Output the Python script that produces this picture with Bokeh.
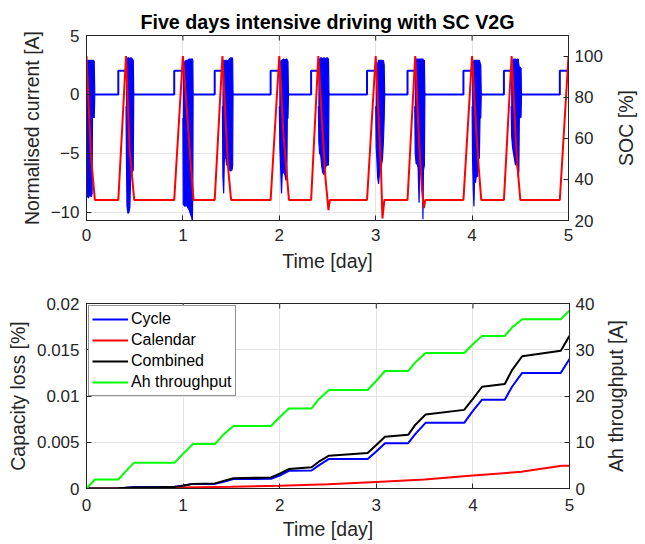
from bokeh.plotting import figure
from bokeh.models import (Range1d, LinearAxis, FixedTicker, Legend, LegendItem,
                          NumeralTickFormatter)
from bokeh.core.properties import value
from bokeh.layouts import column, row
from bokeh.embed import file_html
from bokeh.resources import INLINE

# ---------------- Top chart data (time in days) ----------------
x_ticks = [0, 1, 2, 3, 4, 5]
cur_ticks = [-10, -5, 0, 5]
soc_ticks = [20, 40, 60, 80, 100]

# normalised current: charging steps between driving periods
cur_t = [0.086, 0.33, 0.33, 0.41, 0.49, 0.91, 0.91, 1.0, 1.106, 1.33, 1.33, 1.41,
         1.52, 1.91, 1.91, 2.0, 2.095, 2.33, 2.33, 2.405, 2.515, 2.91, 2.91, 3.0,
         3.093, 3.33, 3.33, 3.405, 3.51, 3.91, 3.91, 4.0, 4.095, 4.33, 4.33, 4.405,
         4.512, 4.91, 4.91, 5.0]
cur_v = [0, 0, 2, 2, 0, 0, 2, 2, 0, 0, 2, 2,
         0, 0, 2, 2, 0, 0, 2, 2, 0, 0, 2, 2,
         0, 0, 2, 2, 0, 0, 2, 2, 0, 0, 2, 2,
         0, 0, 2, 2]

# driving periods: range (upper / lower envelope) of the fast-varying current
ev0_t = [0.000, 0.003, 0.008, 0.02, 0.035, 0.05, 0.058, 0.062, 0.07, 0.08, 0.086]
ev0_hi = [0.0, 1.0, 2.8, 2.9, 2.9, 2.9, 2.9, 2.9, 2.9, 2.8, 0.0]
ev0_lo = [-2.0, -7.5, -8.6, -8.8, -8.5, -8.7, -8.4, -2.0, -1.9, -2.0, 0.0]

ev1_t = [0.41, 0.415, 0.42, 0.43, 0.44, 0.45, 0.457, 0.465, 0.475, 0.485, 0.49]
ev1_hi = [2.0, 2.6, 3.0, 3.1, 3.1, 3.0, 3.1, 3.1, 3.0, 2.9, 0.0]
ev1_lo = [-1.0, -6.0, -9.5, -10.1, -10.0, -9.6, -7.2, -6.5, -6.6, -6.4, 0.0]

ev2_t = [1.0, 1.004, 1.01, 1.02, 1.035, 1.05, 1.065, 1.08, 1.09, 1.098, 1.103, 1.106]
ev2_hi = [2.0, 2.0, 2.4, 2.8, 2.9, 2.9, 3.0, 3.0, 3.0, 3.0, 2.9, 0.0]
ev2_lo = [-2.0, -9.3, -9.4, -9.5, -9.4, -9.6, -9.8, -10.2, -10.4, -10.7, -8.0, 0.0]

ev3_t = [1.41, 1.415, 1.423, 1.43, 1.44, 1.455, 1.47, 1.48, 1.495, 1.51, 1.516, 1.52]
ev3_hi = [2.0, 2.7, 2.9, 2.8, 2.9, 2.9, 2.8, 3.0, 3.1, 3.1, 3.0, 0.0]
ev3_lo = [-1.0, -7.0, -8.4, -5.6, -5.0, -6.0, -6.1, -6.4, -6.5, -6.4, -6.0, 0.0]

ev4_t = [2.0, 2.006, 2.015, 2.023, 2.03, 2.045, 2.06, 2.07, 2.078, 2.083, 2.09, 2.095]
ev4_hi = [2.0, 2.3, 2.8, 2.9, 2.9, 3.0, 2.9, 3.0, 3.0, 2.9, 2.8, 0.0]
ev4_lo = [-1.0, -4.5, -6.5, -8.4, -6.8, -6.5, -6.9, -7.3, -7.0, -2.1, -2.0, 0.0]

ev5_t = [2.405, 2.41, 2.418, 2.43, 2.44, 2.45, 2.46, 2.47, 2.48, 2.49, 2.5, 2.51, 2.515]
ev5_hi = [2.0, 2.6, 3.0, 3.1, 3.1, 3.0, 3.1, 3.1, 3.0, 3.1, 3.1, 3.0, 0.0]
ev5_lo = [-1.0, -4.0, -5.0, -5.2, -6.1, -6.6, -6.8, -6.5, -6.2, -6.0, -6.0, -6.0, 0.0]

ev6_t = [3.0, 3.005, 3.012, 3.02, 3.03, 3.04, 3.05, 3.06, 3.07, 3.08, 3.088, 3.093]
ev6_hi = [2.0, 2.0, 2.2, 2.6, 2.9, 2.9, 2.9, 2.9, 2.8, 2.9, 2.5, 0.0]
ev6_lo = [-1.0, -4.5, -5.5, -7.0, -7.6, -6.6, -6.5, -6.0, -5.5, -4.0, -2.0, 0.0]

ev7_t = [3.405, 3.41, 3.42, 3.43, 3.44, 3.45, 3.455, 3.465, 3.475, 3.485, 3.49, 3.495, 3.505, 3.51]
ev7_hi = [2.0, 2.8, 3.0, 3.0, 3.0, 3.0, 3.0, 3.0, 3.0, 3.0, 3.0, 2.9, 2.9, 0.0]
ev7_lo = [-1.0, -5.0, -5.9, -5.9, -6.2, -9.2, -6.3, -6.0, -6.5, -7.0, -10.6, -6.5, -6.0, 0.0]

ev8_t = [4.0, 4.005, 4.012, 4.019, 4.025, 4.035, 4.045, 4.055, 4.065, 4.075, 4.082, 4.09, 4.095]
ev8_hi = [2.0, 2.2, 2.6, 2.9, 2.9, 2.9, 2.9, 2.9, 2.9, 2.9, 2.7, 2.5, 0.0]
ev8_lo = [-1.0, -5.5, -8.0, -9.5, -7.2, -7.5, -6.8, -7.0, -5.5, -5.4, -2.0, -2.0, 0.0]

ev9_t = [4.405, 4.41, 4.42, 4.43, 4.44, 4.45, 4.46, 4.47, 4.478, 4.485, 4.49, 4.5, 4.508, 4.512]
ev9_hi = [2.0, 2.5, 2.9, 3.0, 3.0, 3.0, 2.9, 3.0, 3.0, 2.5, 2.3, 2.3, 2.2, 0.0]
ev9_lo = [-1.0, -3.5, -4.5, -5.0, -5.5, -6.0, -5.5, -6.3, -7.0, -6.5, -1.9, -2.0, -1.9, 0.0]

# state of charge [%]
soc_t = [0, 0.045, 0.06, 0.087, 0.33, 0.41, 0.447, 0.464, 0.495, 0.91, 1.0, 1.05,
         1.08, 1.11, 1.33, 1.41, 1.45, 1.47, 1.50, 1.91, 2.0, 2.04, 2.075, 2.1,
         2.33, 2.405, 2.45, 2.48, 2.51, 2.525, 2.91, 3.0, 3.03, 3.055, 3.07, 3.09,
         3.33, 3.41, 3.45, 3.48, 3.50, 3.515, 3.91, 4.0, 4.045, 4.07, 4.095, 4.33,
         4.41, 4.45, 4.47, 4.50, 4.91, 5.0]
soc_v = [100, 53, 44, 30, 30, 100, 54, 46, 30, 30, 100, 68,
         48, 30, 30, 100, 62, 45, 30, 30, 100, 64, 44, 30,
         30, 100, 62, 40, 25, 30, 30, 100, 70, 45, 21, 30,
         30, 100, 58, 35, 26, 30, 30, 100, 62, 45, 30, 30,
         100, 62, 47, 30, 30, 100]

# ---------------- Bottom chart data ----------------
loss_ticks = [0, 0.005, 0.01, 0.015, 0.02]
ah_ticks = [0, 10, 20, 30, 40]

cyc_t = [0, 0.33, 0.41, 0.49, 0.91, 1.0, 1.1, 1.33, 1.41, 1.52, 1.91, 2.0, 2.095,
         2.33, 2.405, 2.51, 2.91, 3.0, 3.09, 3.33, 3.405, 3.51, 3.91, 4.0, 4.095,
         4.33, 4.405, 4.51, 4.91, 5.0]
cyc_v = [0, 0.00002, 0.00008, 0.00015, 0.0002, 0.00032, 0.0005, 0.0005, 0.0007,
         0.00102, 0.00105, 0.0014, 0.00192, 0.00195, 0.0025, 0.0032, 0.0032, 0.0040,
         0.0049, 0.0049, 0.0059, 0.0071, 0.0071, 0.0084, 0.0096, 0.0096, 0.0110,
         0.0125, 0.0125, 0.0140]

cal_t = [0, 0.5, 1.0, 1.5, 2.0, 2.5, 3.0, 3.5, 4.0, 4.5, 4.92, 5.0]
cal_v = [0, 0.00003, 0.0001, 0.00018, 0.0003, 0.00045, 0.0007, 0.00096, 0.0014,
         0.0018, 0.00246, 0.00246]

com_t = [0, 0.33, 0.41, 0.49, 0.91, 1.0, 1.1, 1.33, 1.41, 1.52, 1.91, 2.0, 2.095,
         2.33, 2.405, 2.51, 2.91, 3.0, 3.09, 3.33, 3.405, 3.51, 3.91, 4.0, 4.095,
         4.33, 4.405, 4.51, 4.91, 5.0]
com_v = [0, 0.00003, 0.00008, 0.0001, 0.00015, 0.0003, 0.0005, 0.00055, 0.0008,
         0.0011, 0.0012, 0.0016, 0.0021, 0.0023, 0.0029, 0.00355, 0.00385, 0.0047,
         0.0056, 0.0058, 0.0069, 0.0080, 0.0085, 0.0097, 0.0110, 0.0113, 0.0128,
         0.0143, 0.0149, 0.0165]

ah_t = [0, 0.087, 0.33, 0.41, 0.49, 0.91, 1.0, 1.1, 1.33, 1.41, 1.52, 1.91, 2.0,
        2.095, 2.33, 2.405, 2.51, 2.91, 3.0, 3.09, 3.33, 3.405, 3.51, 3.91, 4.0,
        4.095, 4.33, 4.405, 4.51, 4.91, 5.0]
ah_v = [0, 1.95, 1.95, 3.8, 5.55, 5.55, 7.5, 9.6, 9.6, 11.5, 13.5, 13.5, 15.4,
        17.3, 17.3, 19.3, 21.3, 21.3, 23.3, 25.4, 25.4, 27.3, 29.3, 29.3, 31.2,
        33.0, 33.0, 34.8, 36.6, 36.6, 38.5]

# ---------------- styling helpers ----------------
FONT = "Liberation Sans"
AX = "#262626"
GRID = "#e3e3e3"
TICK_FS = "17px"
LABEL_FS = "19.5px"
FRAME_H = 185
MAIN_W = 605      # width of each chart; the right-axis titles sit in a strip beside it
STRIP_W = 40


def style_axis(ax, tick_standoff, label_standoff):
    ax.axis_line_color = AX
    ax.axis_line_width = 1
    ax.major_tick_line_color = AX
    ax.major_tick_in = 5
    ax.major_tick_out = 0
    ax.minor_tick_line_color = None
    ax.major_label_text_font = FONT
    ax.major_label_text_font_size = TICK_FS
    ax.major_label_text_color = AX
    ax.axis_label_text_font = FONT
    ax.axis_label_text_font_size = LABEL_FS
    ax.axis_label_text_font_style = "normal"
    ax.axis_label_text_color = AX
    ax.major_label_standoff = tick_standoff
    ax.axis_label_standoff = label_standoff


def right_axis(p, range_name, ticks):
    ax = LinearAxis(y_range_name=range_name, ticker=FixedTicker(ticks=ticks))
    style_axis(ax, 6, 0)
    p.add_layout(ax, "right")


def title_strip(height, top, bottom, label, x_center):
    # narrow strip holding a right-axis title that reads bottom-to-top
    s = figure(width=STRIP_W, height=height, x_range=Range1d(0, STRIP_W),
               y_range=Range1d(0, 1), x_axis_type=None, y_axis_type=None,
               output_backend="svg", toolbar_location=None,
               min_border_left=0, min_border_right=0,
               min_border_top=top, min_border_bottom=bottom)
    s.outline_line_color = None
    s.background_fill_color = "white"
    s.border_fill_color = "white"
    s.text(x=[x_center], y=[0.5], text=[label], angle=90, angle_units="deg",
           text_align="center", text_baseline="middle",
           text_font=value(FONT), text_font_size=LABEL_FS, text_color=AX)
    return s


def top_ticks(p):
    # inward tick marks on the upper box edge (MATLAB style box)
    yr = p.y_range
    tick_len = (yr.end - yr.start) * 5.0 / FRAME_H
    p.segment(x0=x_ticks, y0=[yr.end] * len(x_ticks), x1=x_ticks,
              y1=[yr.end - tick_len] * len(x_ticks), line_color=AX, line_width=1)


def base_figure(height, y_range, top, bottom, title=None):
    kw = dict(width=MAIN_W, height=height, x_range=Range1d(0, 5), y_range=y_range,
              output_backend="svg", toolbar_location=None,
              min_border_left=86, min_border_right=MAIN_W - 86 - 483,
              min_border_top=top, min_border_bottom=bottom)
    if title:
        kw["title"] = title
    p = figure(**kw)
    p.outline_line_color = AX
    p.outline_line_width = 1
    p.background_fill_color = "white"
    p.border_fill_color = "white"
    p.xgrid.ticker = FixedTicker(ticks=x_ticks)
    p.xgrid.grid_line_color = GRID
    p.ygrid.grid_line_color = GRID
    p.xaxis.ticker = FixedTicker(ticks=x_ticks)
    p.xaxis.axis_label = "Time [day]"
    return p


# ---------------- top figure ----------------
p1 = base_figure(276, Range1d(-10.7, 5), 35, 56,
                 title="Five days intensive driving with SC V2G")
style_axis(p1.xaxis[0], 8, 6)
p1.title.align = "center"
p1.title.text_font = FONT
p1.title.text_font_size = "19.7px"
p1.title.text_font_style = "bold"
p1.title.text_color = "black"
p1.title.standoff = 5
p1.title.offset = 20
p1.yaxis.ticker = FixedTicker(ticks=cur_ticks)
p1.ygrid.ticker = FixedTicker(ticks=cur_ticks)
p1.yaxis.axis_label = "Normalised current [A]"
style_axis(p1.yaxis[0], 7, 5)

p1.extra_y_ranges = {"soc": Range1d(20, 110)}
right_axis(p1, "soc", soc_ticks)
top_ticks(p1)

events = [(ev0_t, ev0_hi, ev0_lo), (ev1_t, ev1_hi, ev1_lo), (ev2_t, ev2_hi, ev2_lo),
          (ev3_t, ev3_hi, ev3_lo), (ev4_t, ev4_hi, ev4_lo), (ev5_t, ev5_hi, ev5_lo),
          (ev6_t, ev6_hi, ev6_lo), (ev7_t, ev7_hi, ev7_lo), (ev8_t, ev8_hi, ev8_lo),
          (ev9_t, ev9_hi, ev9_lo)]
for et, ehi, elo in events:
    p1.varea(x=et, y1=elo, y2=ehi, fill_color="#0000ff")
    p1.line(et, ehi, line_color="#0000ff", line_width=1.2)
    p1.line(et, elo, line_color="#0000ff", line_width=1.2)
p1.line(cur_t, cur_v, line_color="#0000ff", line_width=2)
p1.line(soc_t, soc_v, line_color="#ff0000", line_width=2, y_range_name="soc")

s1 = title_strip(276, 35, 56, "SOC [%]", 20)

# ---------------- bottom figure ----------------
p2 = base_figure(268, Range1d(0, 0.02), 27, 56)
style_axis(p2.xaxis[0], 10, 4)
p2.yaxis.ticker = FixedTicker(ticks=loss_ticks)
p2.ygrid.ticker = FixedTicker(ticks=loss_ticks)
p2.yaxis.formatter = NumeralTickFormatter(format="0.[000]")
p2.yaxis.axis_label = "Capacity loss [%]"
style_axis(p2.yaxis[0], 7, 5)

p2.extra_y_ranges = {"ah": Range1d(0, 40)}
right_axis(p2, "ah", ah_ticks)
top_ticks(p2)

r_cyc = p2.line(cyc_t, cyc_v, line_color="#0000ff", line_width=2)
r_cal = p2.line(cal_t, cal_v, line_color="#ff0000", line_width=2)
r_com = p2.line(com_t, com_v, line_color="#000000", line_width=2)
r_ah = p2.line(ah_t, ah_v, line_color="#00ff00", line_width=2, y_range_name="ah")

legend = Legend(items=[LegendItem(label="Cycle", renderers=[r_cyc]),
                       LegendItem(label="Calendar", renderers=[r_cal]),
                       LegendItem(label="Combined", renderers=[r_com]),
                       LegendItem(label="Ah throughput", renderers=[r_ah])],
                location="top_left")
legend.margin = 2
legend.padding = 3
legend.spacing = 1
legend.glyph_width = 36
legend.glyph_height = 20
legend.label_height = 20
legend.label_standoff = 3
legend.label_text_font = FONT
legend.label_text_font_size = "16px"
legend.label_text_color = "black"
legend.border_line_color = AX
legend.border_line_width = 1
legend.background_fill_color = "white"
legend.background_fill_alpha = 1
p2.add_layout(legend)

s2 = title_strip(268, 27, 56, "Ah throughput [A]", 10.5)

layout = column(row(p1, s1, spacing=0), row(p2, s2, spacing=0), spacing=0)
open("out.html", "w").write(file_html(layout, INLINE))
